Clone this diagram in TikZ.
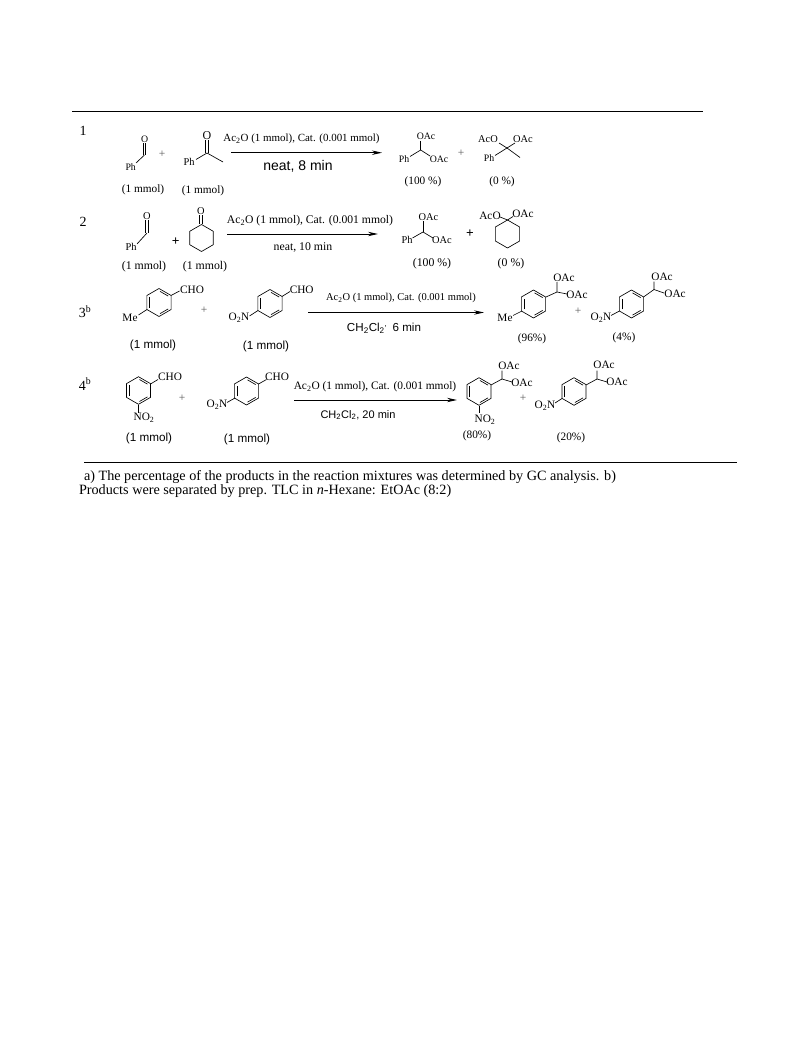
\documentclass[tikz,border=0pt]{standalone}
\usepackage{fontspec}
\setmainfont{Liberation Serif}
\setsansfont{Liberation Sans}
\usetikzlibrary{arrows.meta}
\tikzset{
  txt/.style={inner sep=0pt,outer sep=0pt,font=\fontsize{9.8}{11}\selectfont},
  lab/.style={txt,font=\fontsize{11.3}{13}\selectfont},
  labm/.style={txt,font=\fontsize{10.4}{12}\selectfont},
  amta/.style={txt,font=\fontsize{11.3}{13}\selectfont},
  amtb/.style={txt,font=\fontsize{11.8}{13}\selectfont},
  amts/.style={txt,font=\sffamily\fontsize{11.7}{13}\selectfont},
  num/.style={txt,font=\fontsize{14}{16}\selectfont},
  foot/.style={txt,anchor=west,font=\fontsize{14.2}{16}\selectfont},
  bond/.style={draw=black,line width=0.65pt},
  rule/.style={draw=black,line width=0.9pt},
  rxn/.style={draw=black,line width=0.9pt,-{Stealth[length=10pt,width=4.4pt]}},
  plusn/.style={txt,text=black!65,font=\fontsize{11.5}{12}\selectfont},
  plusb/.style={txt,font=\bfseries\fontsize{13.5}{14}\selectfont}
}
% hexagon with centre #1 and radius #2; #3 = 1 draws the inner double bonds
\newcommand{\hexring}[3]{%
  \begin{scope}[shift={#1}]
    \draw[bond] (90:#2) -- (30:#2) -- (-30:#2) -- (-90:#2) -- (-150:#2) -- (150:#2) -- cycle;
    \ifnum#3=1
      \draw[bond] (150:0.78*#2) -- (-150:0.78*#2);
      \draw[bond] (-85:0.8*#2) -- (-35:0.8*#2);
      \draw[bond] (35:0.8*#2) -- (85:0.8*#2);
    \fi
  \end{scope}}
\begin{document}
\begin{tikzpicture}[x=1pt,y=-1pt]
\useasboundingbox (0,0) rectangle (793,1059);
% rules
\coordinate (ruleTopL) at (72,111); \coordinate (ruleTopR) at (703,111);
\coordinate (ruleBotL) at (84,462); \coordinate (ruleBotR) at (737,462);
\draw[rule] (ruleTopL) -- (ruleTopR);
\draw[rule] (ruleBotL) -- (ruleBotR);
% entry numbers
\node[num] (e1) at (83,131) {1};
\node[num] (e2) at (83,222) {2};
\node[num] (e3) at (85,312) {3\textsuperscript{b}};
\node[num] (e4) at (85,384) {4\textsuperscript{b}};

%% ---------- Entry 1
\node[txt] (a1o) at (144.7,139) {O};
\node[txt] (a1ph) at (130.7,167) {Ph};
\draw[bond] (143.2,143.5) -- (143.2,155) (145.6,143.5) -- (145.6,155);
\draw[bond] (144.5,155) -- (136,163);
\node[plusn] (p1a) at (162,154) {+};
\node[txt,font=\fontsize{12}{13}\selectfont] (b1o) at (207,135.5) {O};
\node[txt,font=\fontsize{10.4}{12}\selectfont] (b1ph) at (189,162) {Ph};
\draw[bond] (205.8,140.5) -- (205.8,153) (208.2,140.5) -- (208.2,153);
\draw[bond] (196,159.5) -- (207,153) -- (223,162);
\node[txt,font=\fontsize{10.95}{13}\selectfont] (c1a) at (301.5,139) {Ac\textsubscript{2}O (1 mmol), Cat. (0.001 mmol)};
\coordinate (s1) at (231,152.7); \coordinate (t1) at (382,152.7);
\draw[rxn] (s1) -- (t1);
\node[txt,font=\sffamily\fontsize{14}{16}\selectfont] (c1b) at (298,166) {neat, 8 min};
\node[amta] (m1a) at (143,190) {(1 mmol)};
\node[amta] (m1b) at (203,191) {(1 mmol)};
\node[txt] (q1o) at (426,136) {OAc};
\node[txt] (q1ph) at (404,159) {Ph};
\node[txt] (q1r) at (439,159) {OAc};
\draw[bond] (420.7,141) -- (420.7,150);
\draw[bond] (410,156.5) -- (420.7,150) -- (430,156);
\node[plusn] (p1b) at (461,153) {+};
\node[labm] (r1l) at (488,139) {AcO};
\node[labm] (r1r) at (523,139) {OAc};
\node[txt] (r1ph) at (489,158) {Ph};
\draw[bond] (499,143) -- (507,148) -- (515,143);
\draw[bond] (495,155.5) -- (507,148) -- (520,157.5);
\node[amta] (y1a) at (423,182) {(100 \%)};
\node[amta] (y1b) at (502,182) {(0 \%)};

%% ---------- Entry 2
\node[labm] (a2o) at (147,216) {O};
\node[labm] (a2ph) at (131,247) {Ph};
\draw[bond] (145.8,220.5) -- (145.8,233) (148.2,220.5) -- (148.2,233);
\draw[bond] (147,233) -- (137,244);
\node[plusb] (p2a) at (175.7,241.5) {+};
\node[labm] (b2o) at (201,211) {O};
\draw[bond] (199.8,215.5) -- (199.8,224.5) (202.2,215.5) -- (202.2,224.5);
\hexring{(201.5,238)}{13.5}{0}
\node[txt,font=\fontsize{11.65}{13}\selectfont] (c2a) at (310,221) {Ac\textsubscript{2}O (1 mmol), Cat. (0.001 mmol)};
\coordinate (s2) at (227,234); \coordinate (t2) at (378,234);
\draw[rxn] (s2) -- (t2);
\node[txt,font=\fontsize{11.8}{13}\selectfont] (c2b) at (303,247) {neat, 10 min};
\node[amtb] (m2a) at (144,267) {(1 mmol)};
\node[amtb] (m2b) at (205,267) {(1 mmol)};
\node[labm] (q2o) at (428.5,217) {OAc};
\node[labm] (q2ph) at (407,240) {Ph};
\node[labm] (q2r) at (442,240) {OAc};
\draw[bond] (423,221.5) -- (423,232);
\draw[bond] (412.5,238) -- (423,232) -- (433,238);
\node[plusb] (p2b) at (470,234) {+};
\hexring{(507.5,234)}{14}{0}
\node[lab] (r2l) at (490,216) {AcO};
\node[lab] (r2r) at (523,213.5) {OAc};
\draw[bond] (500,217) -- (507.5,220) -- (513,216.5);
\node[amtb] (y2a) at (432,264) {(100 \%)};
\node[amtb] (y2b) at (511,264) {(0 \%)};

%% ---------- Entry 3
\hexring{(159,302.5)}{14}{1}
\node[lab] (a3c) at (192,289.5) {CHO};
\node[lab] (a3m) at (130,317.7) {Me};
\draw[bond] (171,295.5) -- (179.5,291);
\draw[bond] (147,309.5) -- (138.5,315);
\node[plusn] (p3a) at (204,310) {+};
\hexring{(270,303.5)}{14}{1}
\node[lab] (b3c) at (301.7,290) {CHO};
\node[lab] (b3n) at (239,318) {O\textsubscript{2}N};
\draw[bond] (282,296.5) -- (290,291.5);
\draw[bond] (258,310.5) -- (249.5,316);
\node[amts] (m3a) at (153,345) {(1 mmol)};
\node[amts] (m3b) at (266,346.5) {(1 mmol)};
\node[txt,font=\fontsize{10.5}{12}\selectfont] (c3a) at (401,298) {Ac\textsubscript{2}O (1 mmol), Cat. (0.001 mmol)};
\coordinate (s3) at (308,312.5); \coordinate (t3) at (484,312.5);
\draw[rxn] (s3) -- (t3);
\node[txt,font=\sffamily\fontsize{11.6}{13}\selectfont] (c3b) at (384,328) {CH\textsubscript{2}Cl\textsubscript{2}\textsuperscript{,}\, 6 min};
\hexring{(533.5,304)}{14}{1}
\node[lab] (q3m) at (505,318) {Me};
\draw[bond] (522,311) -- (513,315.5);
\draw[bond] (546,297) -- (557,292);
\draw[bond] (557,282) -- (557,292) -- (567,294);
\node[lab] (q3o) at (564,278) {OAc};
\node[lab] (q3r) at (577,295) {OAc};
\node[plusn] (p3b) at (578,311) {+};
\hexring{(631.5,304)}{14}{1}
\node[lab] (r3n) at (601,318) {O\textsubscript{2}N};
\draw[bond] (619.5,311) -- (611,315.5);
\draw[bond] (643.5,297) -- (654,289.5);
\draw[bond] (654,281.5) -- (654,289.5) -- (664,293);
\node[lab] (r3o) at (662,277) {OAc};
\node[lab] (r3r) at (675,294) {OAc};
\node[amta] (y3a) at (532,339) {(96\%)};
\node[amta] (y3b) at (624,338) {(4\%)};

%% ---------- Entry 4
\hexring{(138.5,390.5)}{13.8}{1}
\node[lab] (a4c) at (170,377) {CHO};
\node[lab] (a4n) at (144,418) {NO\textsubscript{2}};
\draw[bond] (150.5,384) -- (158,379.5);
\draw[bond] (138.5,404.5) -- (138.5,413);
\node[plusn] (p4a) at (182,398) {+};
\hexring{(246.5,391)}{14}{1}
\node[lab] (b4c) at (277,377) {CHO};
\node[lab] (b4n) at (217,405) {O\textsubscript{2}N};
\draw[bond] (258.5,384) -- (266.5,379.5);
\draw[bond] (235,398) -- (227,402.5);
\node[amts] (m4a) at (149,438) {(1 mmol)};
\node[amts] (m4b) at (247,439) {(1 mmol)};
\node[txt,font=\fontsize{11.4}{13}\selectfont] (c4a) at (375,387) {Ac\textsubscript{2}O (1 mmol), Cat. (0.001 mmol)};
\coordinate (s4) at (294,400); \coordinate (t4) at (457,400);
\draw[rxn] (s4) -- (t4);
\node[txt,font=\sffamily\fontsize{11}{13}\selectfont] (c4b) at (358,415) {CH\textsubscript{2}Cl\textsubscript{2}, 20 min};
\hexring{(479,391.5)}{13.8}{1}
\node[lab] (q4n) at (485,420) {NO\textsubscript{2}};
\draw[bond] (479,405.5) -- (479,413);
\draw[bond] (491,385) -- (502,379);
\draw[bond] (502,370.5) -- (502,379) -- (512,382);
\node[lab] (q4o) at (509,366) {OAc};
\node[lab] (q4r) at (522,383) {OAc};
\node[plusn] (p4b) at (523,398) {+};
\hexring{(574,391.5)}{13.8}{1}
\node[lab] (r4n) at (545,406) {O\textsubscript{2}N};
\draw[bond] (562,398.5) -- (555,403);
\draw[bond] (586,385) -- (597,379);
\draw[bond] (597,370.5) -- (597,379) -- (607,382);
\node[lab] (r4o) at (604,365) {OAc};
\node[lab] (r4r) at (617,382) {OAc};
\node[amta] (y4a) at (477,436) {(80\%)};
\node[amta] (y4b) at (571,438) {(20\%)};

%% ---------- Footnote
\node[foot] (f1) at (84,477.5) {a) The percentage of the products in the reaction mixtures was determined by GC analysis. b)};
\node[foot] (f2) at (79,491.5) {Products were separated by prep. TLC in \textit{n}-Hexane: EtOAc (8:2)};
\end{tikzpicture}
\end{document}
